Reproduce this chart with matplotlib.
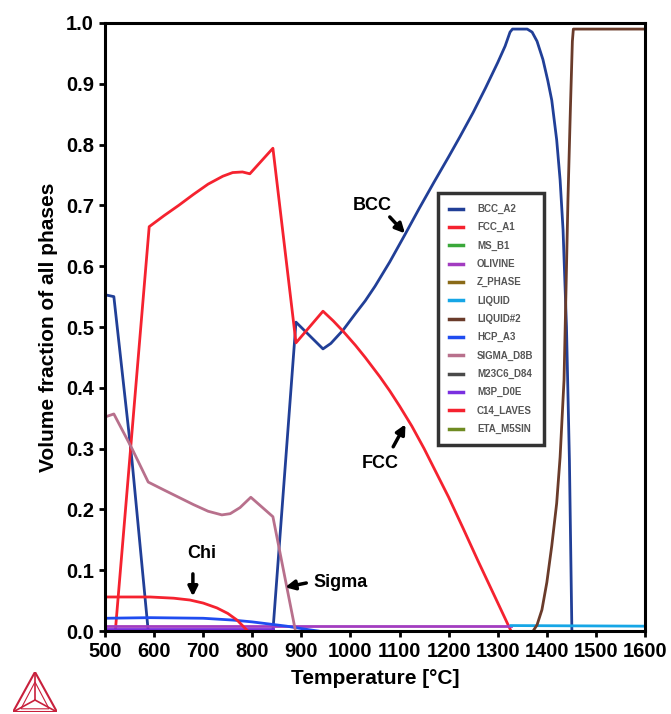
import matplotlib.pyplot as plt
from matplotlib.patches import Polygon

plt.rcParams['font.family'] = ['Liberation Sans', 'DejaVu Sans']

# phase fraction curves (T in degC, volume fraction)
bcc_t = [500, 518, 555, 588, 842, 889, 944, 960, 985, 1010, 1030, 1050, 1080, 1111, 1140, 1170, 1200,
         1223, 1250, 1275, 1300, 1315, 1325, 1330, 1360, 1370, 1380, 1392, 1402, 1410, 1420, 1427,
         1433, 1440, 1446, 1451]
bcc_v = [0.553, 0.55, 0.28, 0.0, 0.0, 0.508, 0.464, 0.473, 0.495, 0.522, 0.543, 0.567, 0.607, 0.652,
         0.695, 0.738, 0.78, 0.813, 0.853, 0.893, 0.935, 0.962, 0.985, 0.99, 0.99, 0.985, 0.97, 0.94,
         0.905, 0.873, 0.808, 0.742, 0.66, 0.50, 0.28, 0.0]

fcc_t = [521, 590, 620, 650, 680, 710, 740, 760, 780, 795, 842, 889, 944, 965, 985, 1010, 1030, 1060,
         1080, 1100, 1125, 1150, 1175, 1200, 1230, 1260, 1295, 1327]
fcc_v = [0.0, 0.665, 0.683, 0.70, 0.718, 0.735, 0.748, 0.754, 0.755, 0.752, 0.794, 0.474, 0.526, 0.51,
         0.493, 0.47, 0.45, 0.418, 0.395, 0.37, 0.337, 0.30, 0.26, 0.22, 0.168, 0.115, 0.055, 0.0]

sigma_t = [500, 518, 555, 588, 620, 650, 680, 710, 738, 755, 775, 797, 842, 887]
sigma_v = [0.352, 0.357, 0.30, 0.245, 0.232, 0.22, 0.208, 0.197, 0.191, 0.193, 0.203, 0.22, 0.188, 0.004]

chi_t = [500, 592, 640, 673, 700, 728, 750, 769, 791]
chi_v = [0.056, 0.056, 0.054, 0.051, 0.046, 0.038, 0.029, 0.018, 0.0]

hcp_t = [500, 592, 700, 761, 800, 830, 870, 900, 934]
hcp_v = [0.021, 0.022, 0.021, 0.018, 0.015, 0.012, 0.008, 0.004, 0.0]

olivine_t = [500, 1327]
olivine_v = [0.008, 0.008]

m3p_t = [500, 842]
m3p_v = [0.004, 0.004]

m23c6_t = [500, 842]
m23c6_v = [0.002, 0.002]

liquid_t = [1327, 1600]
liquid_v = [0.009, 0.008]

liq2_t = [1372, 1380, 1390, 1400, 1410, 1420, 1427, 1435, 1439, 1443, 1448, 1452, 1454, 1600]
liq2_v = [0.0, 0.01, 0.035, 0.08, 0.14, 0.21, 0.286, 0.413, 0.56, 0.71, 0.86, 0.97, 0.99, 0.99]

phase_names = ['BCC_A2', 'FCC_A1', 'MS_B1', 'OLIVINE', 'Z_PHASE', 'LIQUID', 'LIQUID#2',
               'HCP_A3', 'SIGMA_D8B', 'M23C6_D84', 'M3P_D0E', 'C14_LAVES', 'ETA_M5SIN']
phase_colors = ['#213f97', '#f5222f', '#3aa83a', '#a23cc0', '#8a6a18', '#16a6e6', '#6a3b2a',
                '#1f4cf0', '#b8708c', '#4a4a4a', '#7a2fe0', '#f5222f', '#6f8b22']

xticks = list(range(500, 1601, 100))
yticks = [i / 10 for i in range(11)]

fig = plt.figure(figsize=(6.71, 7.14), dpi=100)
ax = fig.add_axes([0.1565, 0.1162, 0.8048, 0.8516])

curves = {
    'OLIVINE': (olivine_t, olivine_v),
    'M23C6_D84': (m23c6_t, m23c6_v),
    'M3P_D0E': (m3p_t, m3p_v),
    'LIQUID': (liquid_t, liquid_v),
    'HCP_A3': (hcp_t, hcp_v),
    'C14_LAVES': (chi_t, chi_v),
    'SIGMA_D8B': (sigma_t, sigma_v),
    'LIQUID#2': (liq2_t, liq2_v),
    'FCC_A1': (fcc_t, fcc_v),
    'BCC_A2': (bcc_t, bcc_v),
}

handles = []
for name, col in zip(phase_names, phase_colors):
    if name in curves:
        t, v = curves[name]
        h, = ax.plot(t, v, color=col, lw=2, label=name, solid_joinstyle='round')
    else:
        h, = ax.plot([], [], color=col, lw=2, label=name)
    handles.append(h)

ax.set_xlim(500, 1600)
ax.set_ylim(0, 1.0)
ax.set_xticks(xticks)
ax.set_yticks(yticks)
ax.set_xticklabels([str(x) for x in xticks], fontsize=14.5, fontweight='bold')
ax.set_yticklabels(['%.1f' % y for y in yticks], fontsize=14.5, fontweight='bold')
ax.tick_params(direction='out', length=4, width=2, pad=4)
for sp in ax.spines.values():
    sp.set_linewidth(2.2)

ax.set_xlabel('Temperature [\u00b0C]', fontsize=15, fontweight='bold', labelpad=6)
ax.set_ylabel('Volume fraction of all phases', fontsize=15, fontweight='bold', labelpad=6)

leg = ax.legend(handles=handles, loc='upper left', bbox_to_anchor=(0.617, 0.720),
                fontsize=7, frameon=True, fancybox=False, labelspacing=0.85,
                handlelength=1.5, handletextpad=1.4, borderpad=1.1, borderaxespad=0)
leg.get_frame().set_edgecolor('black')
leg.get_frame().set_linewidth(2.5)
for txt in leg.get_texts():
    txt.set_color('#555555')
    txt.set_fontweight('bold')
for ln in leg.get_lines():
    ln.set_linewidth(2.5)

arrow = dict(arrowstyle='-|>', lw=2.5, color='black', mutation_scale=14, shrinkA=0, shrinkB=0)
ax.text(1044, 0.70, 'BCC', fontsize=13, fontweight='bold', ha='center', va='center')
ax.annotate('', xy=(1111, 0.654), xytext=(1080, 0.681), arrowprops=arrow)
ax.text(1060, 0.276, 'FCC', fontsize=13, fontweight='bold', ha='center', va='center')
ax.annotate('', xy=(1112, 0.340), xytext=(1087, 0.303), arrowprops=arrow)
ax.text(697, 0.128, 'Chi', fontsize=13, fontweight='bold', ha='center', va='center')
ax.annotate('', xy=(679, 0.057), xytext=(679, 0.094), arrowprops=arrow)
ax.text(924, 0.079, 'Sigma', fontsize=13, fontweight='bold', ha='left', va='center')
ax.annotate('', xy=(867, 0.072), xytext=(910, 0.079), arrowprops=arrow)

# little logo bottom-left
lax = fig.add_axes([13 / 671, 2 / 714, 44 / 671, 40 / 714])
lax.set_xlim(0, 1)
lax.set_ylim(0, 1)
lax.axis('off')
red = '#c8203c'
A, B, C = (0.0, 0.0), (1.0, 0.0), (0.5, 1.0)
G = (0.5, 0.3)
lax.add_patch(Polygon([A, B, C], closed=True, fill=False, edgecolor=red, lw=1.5))
for p in (A, B, C):
    lax.plot([p[0], G[0]], [p[1], G[1]], color=red, lw=1.2)
inner = [(0.18, 0.08), (0.82, 0.08), (0.5, 0.75)]
lax.add_patch(Polygon(inner, closed=True, fill=False, edgecolor=red, lw=0.8))

fig.savefig('out.png', dpi=100)
